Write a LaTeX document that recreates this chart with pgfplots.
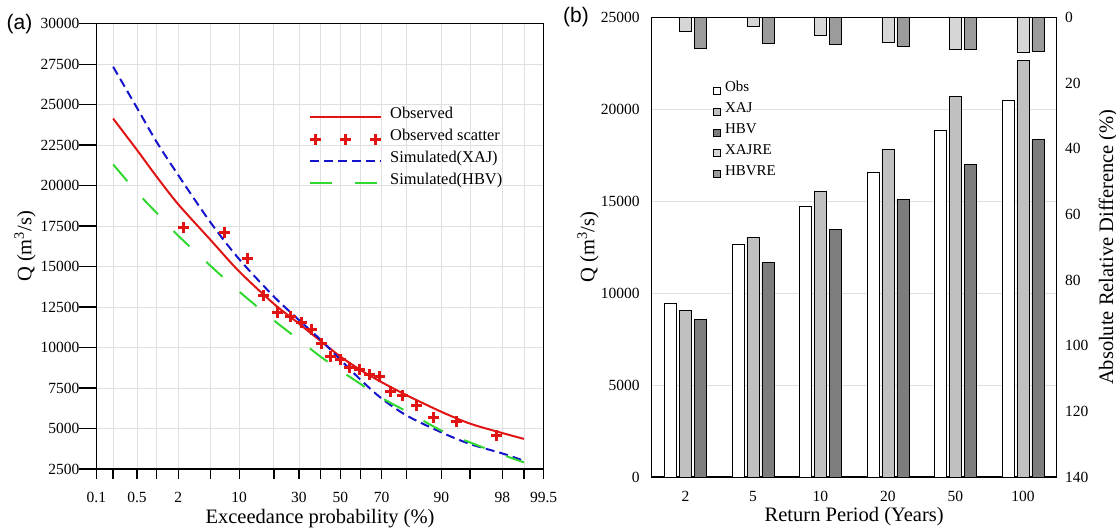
\documentclass[border=0pt]{standalone}
\usepackage{fontspec}
\setmainfont{Liberation Serif}
\newfontfamily\panelfont{Liberation Sans}
\usepackage{pgfplots}
\pgfplotsset{compat=1.18}

\definecolor{obsred}{RGB}{225,20,20}
\definecolor{xajblue}{RGB}{20,20,205}
\definecolor{hbvgreen}{RGB}{50,215,50}
\definecolor{gridgray}{RGB}{224,224,224}
\definecolor{xajgray}{RGB}{192,192,192}
\definecolor{hbvgray}{RGB}{125,125,125}
\definecolor{xajregray}{RGB}{214,214,214}
\definecolor{hbvregray}{RGB}{155,155,155}

\newcommand{\ticksize}{\rmfamily\fontsize{15.5}{17}\selectfont}
\newcommand{\labsize}{\rmfamily\fontsize{20.5}{23}\selectfont}

\pgfplotsset{
  every axis/.append style={
    scale only axis,
    ticklabel style={font=\ticksize},
    label style={font=\labsize},
    scaled ticks=false,
    /pgf/number format/assume math mode=true,
    /pgf/number format/set thousands separator={},
    axis line style={line width=1.3pt},
  },
  sqleg/.style={legend image code/.code={\draw[##1,line width=0.8pt] (0pt,-3.5pt) rectangle (7pt,3.5pt);}},
  lineleg/.style={legend image code/.code={\draw[##1] (0pt,0pt) -- (71pt,0pt);}},
  scatleg/.style={legend image code/.code={\draw[mark repeat=1,mark phase=1,##1] plot coordinates {(5.5pt,0pt) (35.5pt,0pt) (65.5pt,0pt)};}},
}

% exceedance curves, x = standard normal quantile of the probability
\pgfplotstableread{
z        obs    xaj    hbv
-2.8782  24140  27340  21310
-2.5758  22200  24800  19590
-2.3263  20550  22690  18310
-2.0537  18850  20650  16910
-1.6449  16650  17730  15050
-1.2816  14700  15460  13460
-0.8416  12700  13150  11680
-0.5244  11480  11700  10480
-0.2533  10420  10500   9450
 0        9450   9250   8580
 0.2533   8620   8030   7760
 0.5244   7860   6850   6890
 0.8416   7050   5800   6050
 1.2816   6030   4760   4870
 1.6449   5300   4040   4140
 2.0537   4720   3460   3380
 2.3263   4360   3010   2910
}\curves

\pgfplotstableread{
z       q
-1.981  17390
-1.466  17110
-1.180  15500
-0.967  13200
-0.792  12190
-0.637  11920
-0.497  11570
-0.366  11100
-0.240  10230
-0.120   9450
 0       9240
 0.120   8745
 0.240   8620
 0.366   8310
 0.497   8210
 0.637   7280
 0.792   7030
 0.967   6410
 1.180   5690
 1.466   5445
 1.981   4560
}\scatter

\pgfplotstableread{
rp  obs    xaj    hbv    xajre  hbvre
1   9440   9040   8550   4.2    9.4
2   12670  13040  11660  2.9    8.0
3   14710  15530  13470  5.6    8.4
4   16560  17820  15090  7.6    8.9
5   18860  20690  17000  9.7    9.8
6   20490  22670  18360  10.6   10.4
}\returns

\begin{document}
\begin{tikzpicture}
\useasboundingbox (0,0) rectangle (1116pt,530pt);

% ---------- (a) ----------
\begin{axis}[
  at={(96.4pt,61pt)}, anchor=south west,
  width=447.2pt, height=445.3pt,
  xmin=-3.0902, xmax=2.5758,
  ymin=2500, ymax=30000,
  xtick={-3.0902,-2.8782,-2.5758,-2.3263,-2.0537,-1.6449,-1.2816,-0.8416,-0.5244,-0.2533,0,0.2533,0.5244,0.8416,1.2816,1.6449,2.0537,2.3263,2.5758},
  xticklabels={0.1,,0.5,,2,,10,,30,,50,,70,,90,,98,,99.5},
  ytick={2500,5000,...,30000},
  tick pos=left, tick align=outside,
  major tick length=10pt,
  tick style={line width=1.3pt, black},
  xticklabel style={yshift=-9.5pt},
  yticklabel style={xshift=-3.5pt},
  grid=major,
  grid style={gridgray, line width=0.8pt},
  xlabel={Exceedance probability (\%)},
  ylabel={Q (m\textsuperscript{3}/s)},
  xlabel style={at={(axis description cs:0.5,-0.1123)}, anchor=center},
  ylabel style={at={(axis description cs:-0.1597,0.5)}, anchor=center},
  legend cell align=left,
  legend style={at={(axis description cs:0.4754,0.815)}, anchor=north west,
    draw=none, fill=none, inner sep=0pt, column sep=8pt, row sep=0pt,
    font=\fontsize{16.4}{18}\selectfont,
    nodes={inner sep=0pt, text height=12pt, text depth=10pt}},
]
\addplot[lineleg, obsred, line width=2pt, smooth] table[x=z, y=obs] {\curves};
\addlegendentry{Observed}
\addplot[scatleg, obsred, only marks, mark=+, mark size=5.5pt, line width=3pt]
  table[x=z, y=q] {\scatter};
\addlegendentry{Observed scatter}
\addplot[lineleg, xajblue, line width=2pt, smooth, dash pattern=on 9pt off 5pt] table[x=z, y=xaj] {\curves};
\addlegendentry{Simulated(XAJ)}
\addplot[lineleg, hbvgreen, line width=2pt, smooth, dash pattern=on 22pt off 23pt] table[x=z, y=hbv] {\curves};
\addlegendentry{Simulated(HBV)}
\end{axis}

% longer y ticks of (a)
\begin{axis}[
  at={(96.4pt,61pt)}, anchor=south west,
  width=447.2pt, height=445.3pt,
  xmin=-3.0902, xmax=2.5758,
  ymin=2500, ymax=30000,
  axis x line=none, axis y line*=left,
  ytick={2500,5000,...,30000}, yticklabels={},
  tick align=outside, major tick length=17pt,
  tick style={line width=1.3pt, black},
]
\end{axis}

% ---------- (b) discharge ----------
\begin{axis}[
  at={(651.7pt,53pt)}, anchor=south west,
  width=405pt, height=459.7pt,
  xmin=0.5, xmax=6.5, ymin=0, ymax=25000,
  xtick={1,...,6}, xticklabels={2,5,10,20,50,100},
  ytick={0,5000,...,25000},
  major tick length=0pt, tick pos=left,
  ymajorgrids, grid style={gridgray, line width=0.8pt},
  yticklabel style={xshift=-8.5pt},
  xticklabel style={yshift=-11pt},
  ybar, bar width=12pt,
  xlabel={Return Period (Years)},
  ylabel={Q (m\textsuperscript{3}/s)},
  xlabel style={at={(axis description cs:0.5,-0.0864)}, anchor=center},
  ylabel style={at={(axis description cs:-0.157,0.5)}, anchor=center},
]
\addplot[draw=black, line width=0.9pt, fill=white, bar shift=-15pt] table[x=rp, y=obs] {\returns};
\addplot[draw=black, line width=0.9pt, fill=xajgray, bar shift=0pt] table[x=rp, y=xaj] {\returns};
\addplot[draw=black, line width=0.9pt, fill=hbvgray, bar shift=15pt] table[x=rp, y=hbv] {\returns};
\end{axis}

% ---------- (b) relative difference ----------
\begin{axis}[
  at={(651.7pt,53pt)}, anchor=south west,
  width=405pt, height=459.7pt,
  xmin=0.5, xmax=6.5, ymin=0, ymax=140,
  y dir=reverse,
  axis x line=none, axis y line*=right,
  ytick={0,20,...,140},
  major tick length=0pt,
  yticklabel style={xshift=5pt},
  ybar, bar width=12pt,
  ylabel={Absolute Relative Difference (\%)},
  ylabel style={at={(axis description cs:1.1267,0.5)}, anchor=center},
  legend cell align=left,
  legend style={at={(axis description cs:0.1514,0.863)}, anchor=north west,
    draw=none, fill=none, inner sep=0pt, column sep=4pt, row sep=0pt,
    font=\fontsize{15}{17}\selectfont,
    nodes={inner sep=0pt, text height=11.5pt, text depth=9.3pt}},
]
\addlegendimage{sqleg, draw=black, fill=white}
\addlegendentry{Obs}
\addlegendimage{sqleg, draw=black, fill=xajgray}
\addlegendentry{XAJ}
\addlegendimage{sqleg, draw=black, fill=hbvgray}
\addlegendentry{HBV}
\addplot[sqleg, draw=black, line width=0.9pt, fill=xajregray, bar shift=0pt] table[x=rp, y=xajre] {\returns};
\addlegendentry{XAJRE}
\addplot[sqleg, draw=black, line width=0.9pt, fill=hbvregray, bar shift=15pt] table[x=rp, y=hbvre] {\returns};
\addlegendentry{HBVRE}
\end{axis}

\node[font=\panelfont\fontsize{21}{24}\selectfont] at (19.5pt,506pt) {(a)};
\node[font=\panelfont\fontsize{21}{24}\selectfont] at (576pt,513pt) {(b)};
\end{tikzpicture}
\end{document}
